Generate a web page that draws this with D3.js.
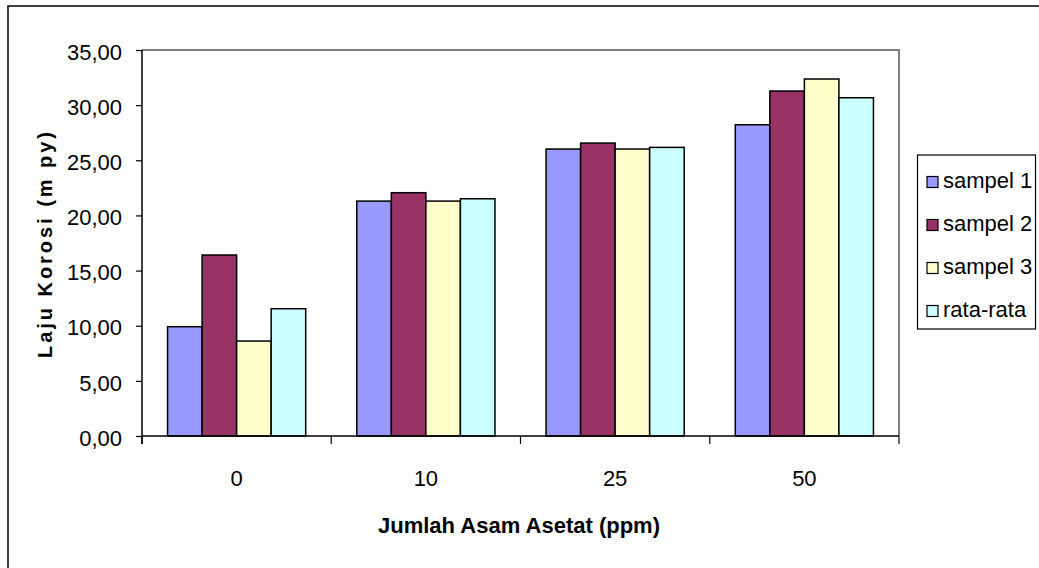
<!DOCTYPE html>
<html>
<head>
<meta charset="utf-8">
<script src="https://cdn.jsdelivr.net/npm/d3@7/dist/d3.min.js"></script>
<style>
  html, body { margin: 0; padding: 0; background: #fff; }
  svg { display: block; font-family: "Liberation Sans", Arial, sans-serif; }
</style>
</head>
<body>
<svg id="chart" width="1039" height="568"></svg>
<script>
const categories = ["0", "10", "25", "50"];
const seriesNames = ["sampel 1", "sampel 2", "sampel 3", "rata-rata"];
const sampel1 = [9.91, 21.30, 26.02, 28.22];
const sampel2 = [16.41, 22.06, 26.56, 31.28];
const sampel3 = [8.61, 21.30, 26.02, 32.37];
const rataRata = [11.54, 21.51, 26.17, 30.67];
const yTicks = [0, 5, 10, 15, 20, 25, 30, 35];
const colors = ["#9999FF", "#993366", "#FFFFCC", "#CCFFFF"];

const seriesValues = [sampel1, sampel2, sampel3, rataRata];
const data = categories.map((c, i) => ({
  cat: c,
  vals: seriesNames.map((s, j) => ({ key: s, value: seriesValues[j][i], color: colors[j] }))
}));

const svg = d3.select("#chart");
const plot = { left: 142, right: 899, top: 50, bottom: 436 };

// outer chart border
svg.append("rect").attr("x", 8).attr("y", 6).attr("width", 1040).attr("height", 570)
  .attr("fill", "#fff").attr("stroke", "#000").attr("stroke-width", 1.5);

const x = d3.scaleBand().domain(categories).range([plot.left, plot.right])
  .paddingInner(0.27).paddingOuter(0.135);
const xs = d3.scaleBand().domain(seriesNames).range([0, x.bandwidth()]).padding(0);
const y = d3.scaleLinear().domain([0, 35]).range([plot.bottom, plot.top]);

// plot area border (top & right gray)
svg.append("path")
  .attr("d", `M${plot.left},${plot.top}H${plot.right}V${plot.bottom}`)
  .attr("fill", "none").attr("stroke", "#808080").attr("stroke-width", 2);

// bars
const g = svg.append("g");
g.selectAll("g.cat").data(data).join("g")
  .attr("transform", d => `translate(${x(d.cat)},0)`)
  .selectAll("rect").data(d => d.vals).join("rect")
  .attr("x", d => xs(d.key))
  .attr("y", d => y(d.value))
  .attr("width", xs.bandwidth())
  .attr("height", d => y(0) - y(d.value))
  .attr("fill", d => d.color)
  .attr("stroke", "#000").attr("stroke-width", 1.5);

// y axis
const fmt = v => d3.format(".2f")(v).replace(".", ",");
const yAxis = d3.axisLeft(y).tickValues(yTicks).tickFormat(fmt).tickSize(6).tickPadding(14);
const ya = svg.append("g").attr("transform", `translate(${plot.left},0)`).call(yAxis);
ya.select(".domain").attr("stroke", "#000").attr("stroke-width", 1.5)
  .attr("d", `M0,${plot.top}V${plot.bottom + 8}`);
ya.selectAll(".tick line").attr("stroke", "#000").attr("stroke-width", 1.2);
ya.selectAll(".tick text").attr("font-size", 22).attr("fill", "#000")
  .attr("font-family", "Liberation Sans, Arial, sans-serif").attr("dy", "0.42em");

// x axis line
svg.append("line").attr("x1", plot.left).attr("x2", plot.right)
  .attr("y1", plot.bottom).attr("y2", plot.bottom)
  .attr("stroke", "#000").attr("stroke-width", 1.5);
// x boundary ticks
const bounds = categories.map(c => x(c) - x.step() * x.paddingInner() / 2).concat([plot.right]);
bounds[0] = plot.left;
svg.selectAll("line.xt").data(bounds).join("line")
  .attr("x1", d => d).attr("x2", d => d)
  .attr("y1", plot.bottom).attr("y2", plot.bottom + 8)
  .attr("stroke", "#000").attr("stroke-width", 1.2);
// category labels
svg.selectAll("text.cat").data(categories).join("text")
  .attr("x", d => x(d) + x.bandwidth() / 2).attr("y", 486)
  .attr("text-anchor", "middle").attr("font-size", 22).text(d => d);

// axis titles
svg.append("text").attr("x", 519).attr("y", 533).attr("text-anchor", "middle")
  .attr("font-size", 22).attr("font-weight", "bold").text("Jumlah Asam Asetat (ppm)");
svg.append("text").attr("transform", "translate(52,245) rotate(-90)")
  .attr("text-anchor", "middle").attr("font-size", 20).attr("font-weight", "bold")
  .attr("textLength", 226).attr("lengthAdjust", "spacing")
  .text("Laju Korosi (m py)");

// legend
const lg = svg.append("g");
lg.append("rect").attr("x", 917.5).attr("y", 155).attr("width", 118).attr("height", 174)
  .attr("fill", "#fff").attr("stroke", "#000").attr("stroke-width", 1.2);
const items = lg.selectAll("g.item").data(seriesNames).join("g")
  .attr("transform", (d, i) => `translate(0,${187.5 + i * 43})`);
items.append("rect").attr("x", 927).attr("y", -11).attr("width", 11).attr("height", 11)
  .attr("fill", (d, i) => colors[i]).attr("stroke", "#000").attr("stroke-width", 1.2);
items.append("text").attr("x", 943).attr("y", 0).attr("font-size", 22).text(d => d);
</script>
</body>
</html>
